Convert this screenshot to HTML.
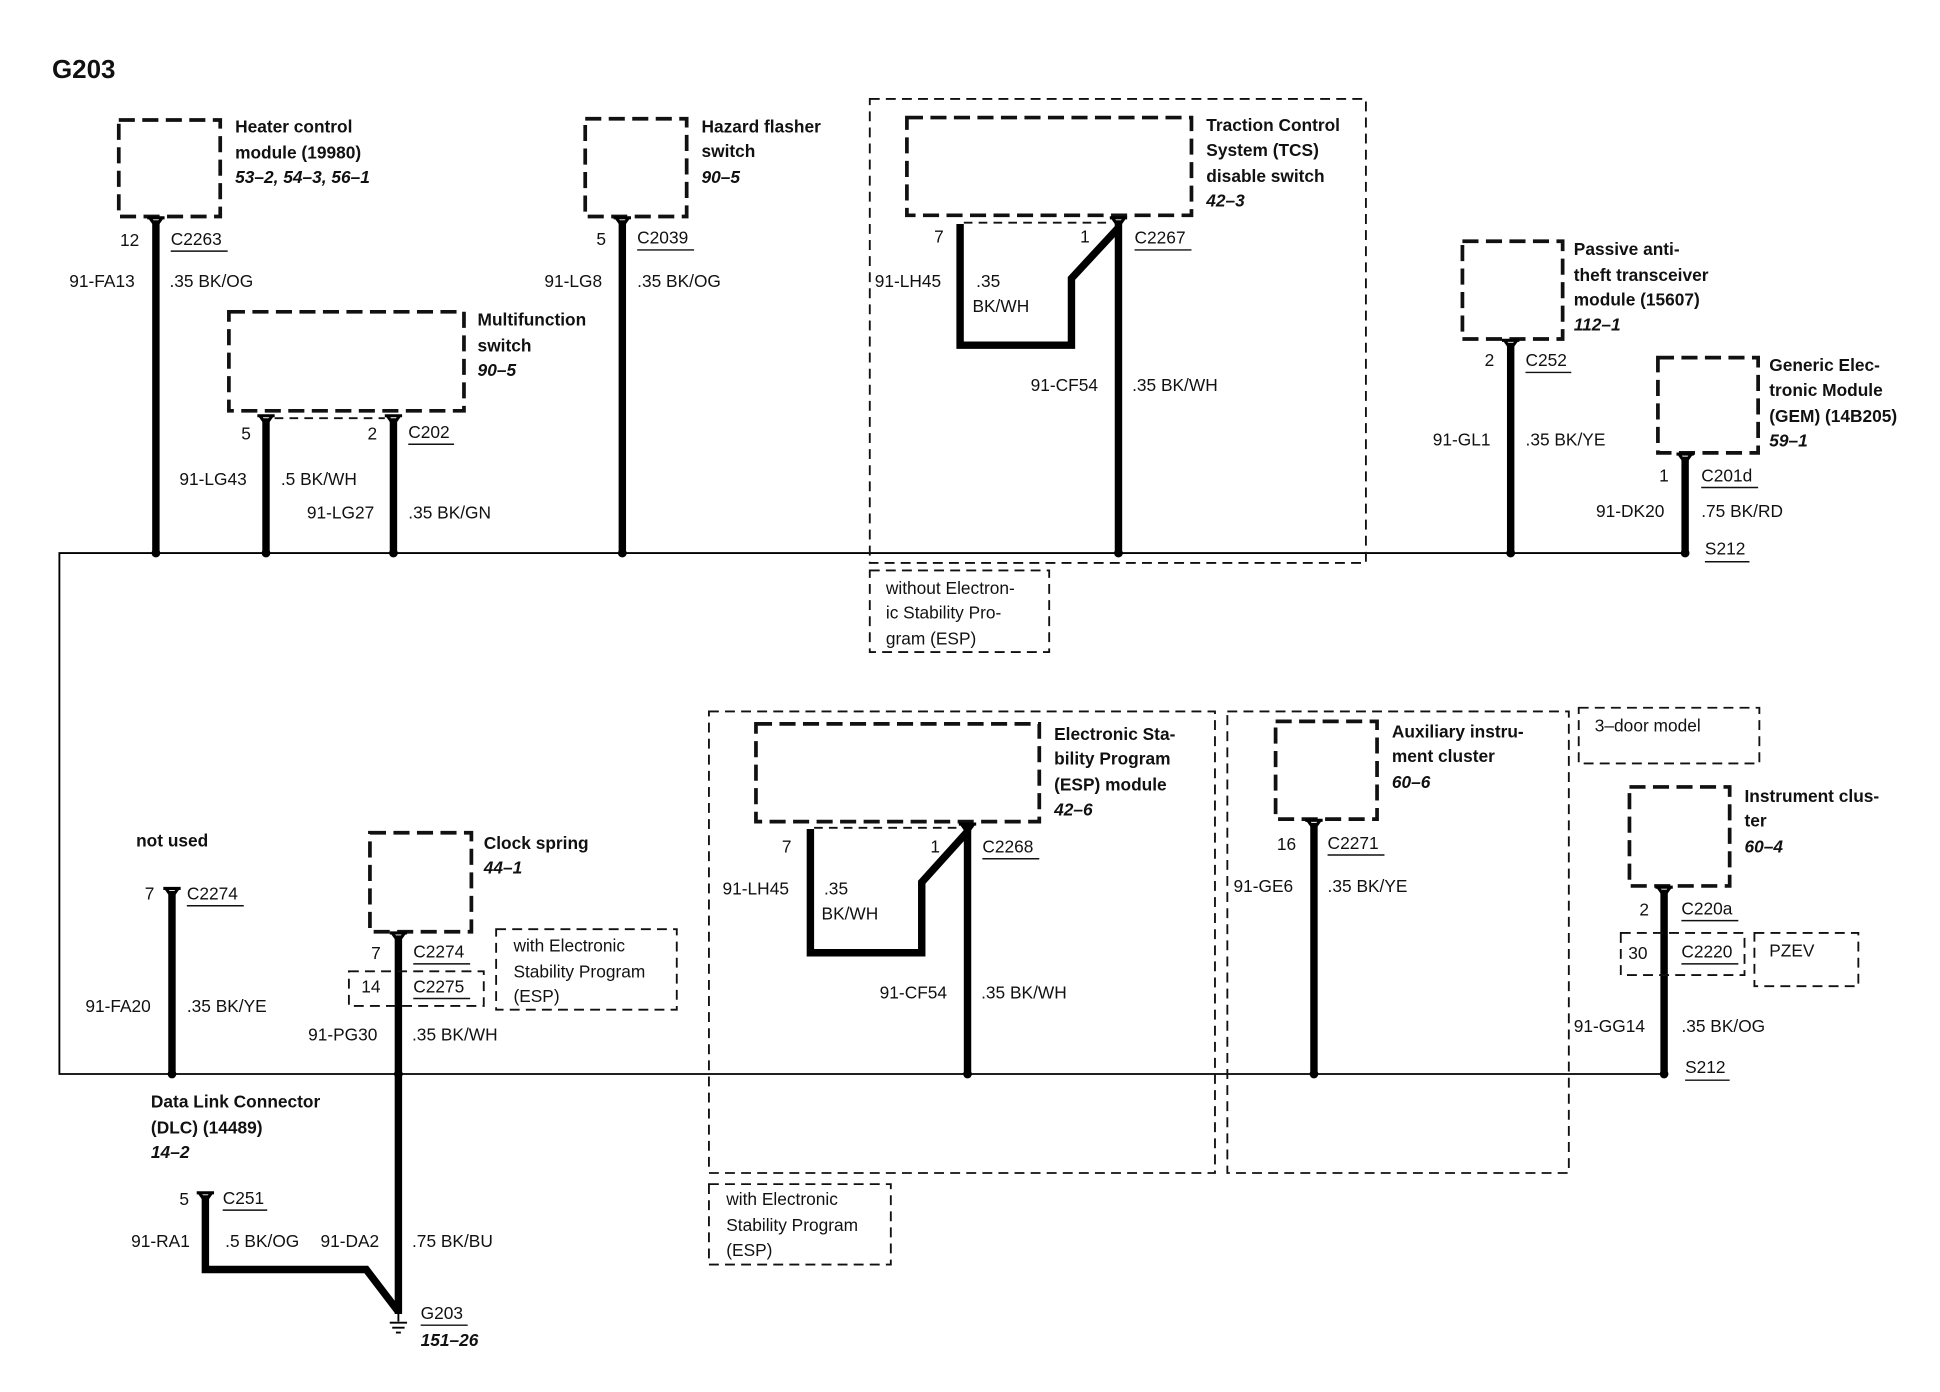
<!DOCTYPE html>
<html><head><meta charset="utf-8"><style>
html,body{margin:0;padding:0;background:#fff;}
svg{display:block;}
text{font-family:"Liberation Sans",Arial,sans-serif;font-size:14px;fill:#111;}
.b{font-weight:bold;}
.i{font-weight:bold;font-style:italic;}
.box{fill:none;stroke:#111;stroke-width:3;stroke-dasharray:13,6;}
.reg{fill:none;stroke:#111;stroke-width:1.5;stroke-dasharray:8,5;}
.w{fill:none;stroke:#000;stroke-width:6;}
.bus{fill:none;stroke:#000;stroke-width:1.5;}
.u{stroke:#111;stroke-width:1.2;}
</style></head><body>
<svg width="1940" height="1392" viewBox="0 0 1568 1125" preserveAspectRatio="none" xmlns="http://www.w3.org/2000/svg">
<defs>
<g id="cn"><path d="M-7,0 H7 M-5,0 L0,7 L5,0" stroke="#000" stroke-width="2.5" fill="none"/></g>
</defs>
<text x="42" y="63" class="b" style="font-size:21px">G203</text>

<path class="bus" d="M1362,447 H48 V868 H1345"/>

<rect class="box" x="96" y="97" width="82" height="78"/>
<text x="190" y="107" class="b">Heater control</text>
<text x="190" y="128" class="b">module (19980)</text>
<text x="190" y="148" class="i">53–2, 54–3, 56–1</text>
<path class="w" d="M126,178 V447"/><use href="#cn" x="126" y="176"/>
<text x="97" y="199">12</text><text x="138" y="198">C2263</text><line class="u" x1="138" y1="203" x2="184" y2="203"/>
<text x="56" y="232">91-FA13</text><text x="137" y="232">.35 BK/OG</text>

<rect class="box" x="185" y="252" width="190" height="80"/>
<text x="386" y="263" class="b">Multifunction</text>
<text x="386" y="284" class="b">switch</text>
<text x="386" y="304" class="i">90–5</text>
<path class="w" d="M215,338 V447 M318,338 V447"/>
<use href="#cn" x="215" y="336"/><use href="#cn" x="318" y="336"/>
<line x1="222" y1="338" x2="311" y2="338" stroke="#111" stroke-width="1.5" stroke-dasharray="7,5"/>
<text x="195" y="355">5</text><text x="297" y="355">2</text>
<text x="330" y="354">C202</text><line class="u" x1="330" y1="359" x2="367" y2="359"/>
<text x="145" y="392">91-LG43</text><text x="227" y="392">.5 BK/WH</text>
<text x="248" y="419">91-LG27</text><text x="330" y="419">.35 BK/GN</text>

<rect class="box" x="473" y="96" width="82" height="79"/>
<text x="567" y="107" class="b">Hazard flasher</text>
<text x="567" y="127" class="b">switch</text>
<text x="567" y="148" class="i">90–5</text>
<path class="w" d="M503,178 V447"/><use href="#cn" x="503" y="176"/>
<text x="482" y="198">5</text><text x="515" y="197">C2039</text><line class="u" x1="515" y1="202" x2="561" y2="202"/>
<text x="440" y="232">91-LG8</text><text x="515" y="232">.35 BK/OG</text>

<rect class="reg" x="703" y="80" width="401" height="375"/>
<rect class="box" x="733" y="95" width="230" height="79"/>
<text x="975" y="106" class="b">Traction Control</text>
<text x="975" y="126" class="b">System (TCS)</text>
<text x="975" y="147" class="b">disable switch</text>
<text x="975" y="167" class="i">42–3</text>
<path class="w" d="M776,181 V279 H866 V225 L904,184"/>
<path class="w" d="M904,178 V447"/>
<use href="#cn" x="904" y="176"/>
<line x1="779" y1="180" x2="897" y2="180" stroke="#111" stroke-width="1.5" stroke-dasharray="7,5"/>
<text x="755" y="196">7</text><text x="873" y="196">1</text>
<text x="917" y="197">C2267</text><line class="u" x1="917" y1="202" x2="963" y2="202"/>
<text x="707" y="232">91-LH45</text><text x="789" y="232">.35</text><text x="786" y="252">BK/WH</text>
<text x="833" y="316">91-CF54</text><text x="915" y="316">.35 BK/WH</text>
<rect class="reg" x="703" y="461" width="145" height="66"/>
<text x="716" y="480">without Electron-</text>
<text x="716" y="500">ic Stability Pro-</text>
<text x="716" y="521">gram (ESP)</text>

<rect class="box" x="1182" y="195" width="81" height="79"/>
<text x="1272" y="206" class="b">Passive anti-</text>
<text x="1272" y="227" class="b">theft transceiver</text>
<text x="1272" y="247" class="b">module (15607)</text>
<text x="1272" y="267" class="i">112–1</text>
<path class="w" d="M1221,277 V447"/><use href="#cn" x="1221" y="275"/>
<text x="1200" y="296">2</text><text x="1233" y="296">C252</text><line class="u" x1="1233" y1="301" x2="1270" y2="301"/>
<text x="1158" y="360">91-GL1</text><text x="1233" y="360">.35 BK/YE</text>

<rect class="box" x="1340" y="289" width="81" height="77"/>
<text x="1430" y="300" class="b">Generic Elec-</text>
<text x="1430" y="320" class="b">tronic Module</text>
<text x="1430" y="341" class="b">(GEM) (14B205)</text>
<text x="1430" y="361" class="i">59–1</text>
<path class="w" d="M1362,369 V447"/><use href="#cn" x="1362" y="367"/>
<text x="1341" y="389">1</text><text x="1375" y="389">C201d</text><line class="u" x1="1375" y1="394" x2="1421" y2="394"/>
<text x="1290" y="418">91-DK20</text><text x="1375" y="418">.75 BK/RD</text>
<text x="1378" y="448">S212</text><line class="u" x1="1378" y1="454" x2="1414" y2="454"/>

<g fill="#000"><circle cx="126" cy="447" r="3.5"/><circle cx="215" cy="447" r="3.5"/><circle cx="318" cy="447" r="3.5"/><circle cx="503" cy="447" r="3.5"/><circle cx="904" cy="447" r="3.5"/><circle cx="1221" cy="447" r="3.5"/><circle cx="1362" cy="447" r="3.5"/>
<circle cx="139" cy="868" r="3.5"/><circle cx="322" cy="868" r="3.5"/><circle cx="782" cy="868" r="3.5"/><circle cx="1062" cy="868" r="3.5"/><circle cx="1345" cy="868" r="3.5"/></g>

<text x="110" y="684" class="b">not used</text>
<path class="w" d="M139,720 V868"/><use href="#cn" x="139" y="718"/>
<text x="117" y="727">7</text><text x="151" y="727">C2274</text><line class="u" x1="151" y1="732" x2="197" y2="732"/>
<text x="69" y="818">91-FA20</text><text x="151" y="818">.35 BK/YE</text>
<text x="122" y="895" class="b">Data Link Connector</text>
<text x="122" y="916" class="b">(DLC) (14489)</text>
<text x="122" y="936" class="i">14–2</text>
<path class="w" d="M166,966 V1026 H296 L322,1060"/><use href="#cn" x="166" y="964"/>
<text x="145" y="974">5</text><text x="180" y="973">C251</text><line class="u" x1="180" y1="978" x2="216" y2="978"/>
<text x="106" y="1008">91-RA1</text><text x="182" y="1008">.5 BK/OG</text>
<text x="259" y="1008">91-DA2</text><text x="333" y="1008">.75 BK/BU</text>
<path class="w" d="M322,868 V1062"/>
<path d="M322,1062 V1068 M315,1069 H329 M317,1073 H327 M320,1077 H324" stroke="#000" stroke-width="1.5"/>
<text x="340" y="1066">G203</text><line class="u" x1="340" y1="1071" x2="378" y2="1071"/>
<text x="340" y="1088" class="i">151–26</text>

<rect class="box" x="299" y="673" width="82" height="80"/>
<text x="391" y="686" class="b">Clock spring</text>
<text x="391" y="706" class="i">44–1</text>
<path class="w" d="M322,756 V868"/><use href="#cn" x="322" y="754"/>
<text x="300" y="775">7</text><text x="334" y="774">C2274</text><line class="u" x1="334" y1="779" x2="380" y2="779"/>
<rect class="reg" x="282" y="785" width="109" height="28"/>
<text x="292" y="802">14</text><text x="334" y="802">C2275</text><line class="u" x1="334" y1="807" x2="380" y2="807"/>
<rect class="reg" x="401" y="751" width="146" height="65"/>
<text x="415" y="769">with Electronic</text>
<text x="415" y="790">Stability Program</text>
<text x="415" y="810">(ESP)</text>
<text x="249" y="841">91-PG30</text><text x="333" y="841">.35 BK/WH</text>

<rect class="reg" x="573" y="575" width="409" height="373"/>
<rect class="box" x="611" y="585" width="229" height="79"/>
<text x="852" y="598" class="b">Electronic Sta-</text>
<text x="852" y="618" class="b">bility Program</text>
<text x="852" y="639" class="b">(ESP) module</text>
<text x="852" y="659" class="i">42–6</text>
<path class="w" d="M655,670 V770 H745 V713 L782,672"/>
<path class="w" d="M782,667 V868"/><use href="#cn" x="782" y="666"/>
<line x1="658" y1="669" x2="775" y2="669" stroke="#111" stroke-width="1.5" stroke-dasharray="7,5"/>
<text x="632" y="689">7</text><text x="752" y="689">1</text>
<text x="794" y="689">C2268</text><line class="u" x1="794" y1="694" x2="840" y2="694"/>
<text x="584" y="723">91-LH45</text><text x="666" y="723">.35</text><text x="664" y="743">BK/WH</text>
<text x="711" y="807">91-CF54</text><text x="793" y="807">.35 BK/WH</text>
<rect class="reg" x="573" y="957" width="147" height="65"/>
<text x="587" y="974">with Electronic</text>
<text x="587" y="995">Stability Program</text>
<text x="587" y="1015">(ESP)</text>

<rect class="reg" x="992" y="575" width="276" height="373"/>
<rect class="box" x="1031" y="583" width="82" height="79"/>
<text x="1125" y="596" class="b">Auxiliary instru-</text>
<text x="1125" y="616" class="b">ment cluster</text>
<text x="1125" y="637" class="i">60–6</text>
<path class="w" d="M1062,665 V868"/><use href="#cn" x="1062" y="663"/>
<text x="1032" y="687">16</text><text x="1073" y="686">C2271</text><line class="u" x1="1073" y1="691" x2="1119" y2="691"/>
<text x="997" y="721">91-GE6</text><text x="1073" y="721">.35 BK/YE</text>

<rect class="reg" x="1276" y="572" width="146" height="45"/>
<text x="1289" y="591">3–door model</text>
<rect class="box" x="1317" y="636" width="81" height="80"/>
<text x="1410" y="648" class="b">Instrument clus-</text>
<text x="1410" y="668" class="b">ter</text>
<text x="1410" y="689" class="i">60–4</text>
<path class="w" d="M1345,719 V868"/><use href="#cn" x="1345" y="717"/>
<text x="1325" y="740">2</text><text x="1359" y="739">C220a</text><line class="u" x1="1359" y1="744" x2="1405" y2="744"/>
<rect class="reg" x="1310" y="754" width="100" height="34"/>
<text x="1316" y="775">30</text><text x="1359" y="774">C2220</text><line class="u" x1="1359" y1="779" x2="1405" y2="779"/>
<rect class="reg" x="1418" y="754" width="84" height="43"/>
<text x="1430" y="773">PZEV</text>
<text x="1272" y="834">91-GG14</text><text x="1359" y="834">.35 BK/OG</text>
<text x="1362" y="867">S212</text><line class="u" x1="1362" y1="873" x2="1398" y2="873"/>
</svg>
</body></html>
